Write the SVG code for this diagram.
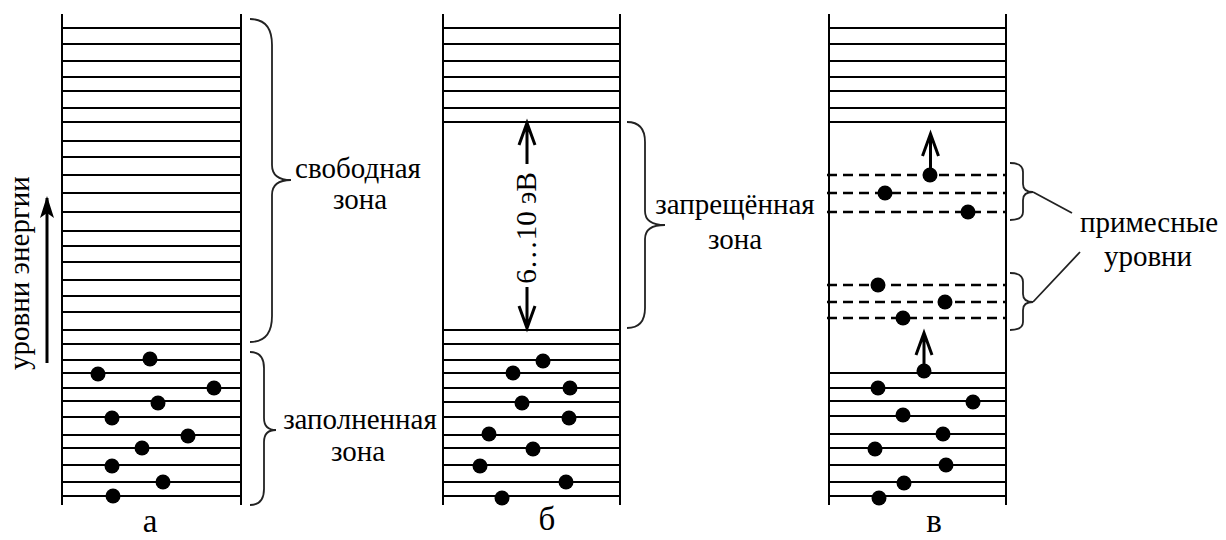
<svg xmlns="http://www.w3.org/2000/svg" width="1226" height="540" viewBox="0 0 1226 540">
<style>
.ln{stroke:#000;stroke-width:2;fill:none}
.dash{stroke:#000;stroke-width:2.6;fill:none;stroke-dasharray:10 6}
.dot{fill:#000}
.br{stroke:#222;stroke-width:1.8;fill:none}
.ar{stroke:#000;stroke-width:3;fill:none}
.t{font-family:"Liberation Serif","Times New Roman",serif;font-size:29px;fill:#000;text-anchor:middle}
.lab{font-family:"Liberation Serif","Times New Roman",serif;font-size:33px;fill:#000;text-anchor:middle}
</style>
<rect width="1226" height="540" fill="#fff"/>
<g id="panel-a">
<path class="ln" d="M62,14V505M241,14V505"/>
<path class="ln" d="M62,28H241M62,44H241M62,61H241M62,77H241M62,91H241M62,108H241M62,122H241M62,141H241M62,157H241M62,175H241M62,193H241M62,212H241M62,231H241M62,246H241M62,262H241M62,280H241M62,296H241M62,312H241M62,330H241M62,344H241M62,360H241M62,373H241M62,388H241M62,401H241M62,417H241M62,435H241M62,448H241M62,465H241M62,482H241M62,496H241"/>
<g class="dot">
<circle cx="150" cy="359" r="7.5"/><circle cx="98" cy="374" r="7.5"/><circle cx="214" cy="388" r="7.5"/><circle cx="158" cy="403" r="7.5"/><circle cx="112" cy="418" r="7.5"/><circle cx="188" cy="436" r="7.5"/><circle cx="142" cy="448" r="7.5"/><circle cx="112" cy="466" r="7.5"/><circle cx="163" cy="482" r="7.5"/><circle cx="113" cy="496" r="7.5"/>
</g>
<text class="lab" x="150" y="532">а</text>
</g>
<g id="energy-axis">
<text class="t" transform="translate(29,273) rotate(-90)">уровни энергии</text>
</g>
<g id="brace-free">
<path class="br" d="M250,19Q272,19 272,45V165Q272,180 291,180Q272,180 272,195V316Q272,342 250,342"/>
<text class="t" x="358" y="178">свободная</text>
<text class="t" x="360" y="209">зона</text>
</g>
<g id="brace-filled">
<path class="br" d="M250,352Q264,352 264,368V418Q264,430 276,430Q264,430 264,442V489Q264,505 250,505"/>
<text class="t" x="360" y="429">заполненная</text>
<text class="t" x="358" y="461">зона</text>
</g>
<g id="panel-b">
<path class="ln" d="M443,14V505M620,14V505"/>
<path class="ln" d="M443,28H620M443,44H620M443,61H620M443,77H620M443,91H620M443,108H620M443,122H620M443,330H620M443,344H620M443,360H620M443,373H620M443,388H620M443,402H620M443,417H620M443,435H620M443,448H620M443,465H620M443,482H620M443,496H620"/>
<g class="dot">
<circle cx="543" cy="361" r="7.5"/><circle cx="513" cy="373" r="7.5"/><circle cx="570" cy="388" r="7.5"/><circle cx="522" cy="403" r="7.5"/><circle cx="569" cy="418" r="7.5"/><circle cx="489" cy="434" r="7.5"/><circle cx="533" cy="449" r="7.5"/><circle cx="480" cy="466" r="7.5"/><circle cx="566" cy="482" r="7.5"/><circle cx="502" cy="498" r="7.5"/>
</g>
<text class="t" transform="translate(536,228) rotate(-90)">6…10 эВ</text>
<text class="lab" x="547" y="530">б</text>
</g>
<g id="brace-gap">
<path class="br" d="M627,122Q645,122 645,142V211Q645,225 665,225Q645,225 645,239V308Q645,328 627,328"/>
<text class="t" x="735" y="214">запрещённая</text>
<text class="t" x="735" y="249">зона</text>
</g>
<g id="panel-c">
<path class="ln" d="M829,14V505M1006,14V505"/>
<path class="ln" d="M829,28H1006M829,44H1006M829,61H1006M829,77H1006M829,91H1006M829,108H1006M829,122H1006M829,373H1006M829,388H1006M829,401H1006M829,416H1006M829,434H1006M829,448H1006M829,465H1006M829,482H1006M829,496H1006"/>
<path class="dash" d="M827,175H1006M827,193H1006M827,212H1006M827,285H1006M827,302H1006M827,318H1006"/>
<g class="dot">
<circle cx="930" cy="175" r="7.5"/><circle cx="885" cy="193" r="7.5"/><circle cx="968" cy="212" r="7.5"/><circle cx="878" cy="285" r="7.5"/><circle cx="945" cy="302" r="7.5"/><circle cx="903" cy="318" r="7.5"/>
<circle cx="924" cy="371" r="7.5"/><circle cx="878" cy="388" r="7.5"/><circle cx="973" cy="402" r="7.5"/><circle cx="903" cy="415" r="7.5"/><circle cx="943" cy="434" r="7.5"/><circle cx="875" cy="449" r="7.5"/><circle cx="946" cy="465" r="7.5"/><circle cx="904" cy="483" r="7.5"/><circle cx="879" cy="498" r="7.5"/>
</g>
<text class="lab" x="934" y="532">в</text>
</g>
<g id="brace-impurity">
<path class="br" d="M1010,163Q1023,163 1023,172V184Q1023,192 1033,192Q1023,192 1023,200V212Q1023,220 1010,220"/>
<path class="br" d="M1010,273Q1023,273 1023,282V294Q1023,302 1033,302Q1023,302 1023,310V322Q1023,330 1010,330"/>
<text class="t" x="1149" y="232">примесные</text>
<text class="t" x="1148" y="266">уровни</text>
</g>
<g id="connectors">
<path class="ar" d="M47,363V198" stroke-width="2.5"/>
<path d="M47,196L54,218L47,213L40,218Z" fill="#000"/>
<path class="ar" d="M527,164V124M519,145L527,123L535,145"/>
<path class="ar" d="M527,287V327M519,306L527,328L535,306"/>
<path class="ar" d="M930.5,168V135M922.5,156L930.5,134L938.5,156"/>
<path class="ar" d="M924,364V334M916,355L924,333L932,355"/>
<path class="br" d="M1033,192L1072,213M1033,302L1080,252"/>
</g>
</svg>
